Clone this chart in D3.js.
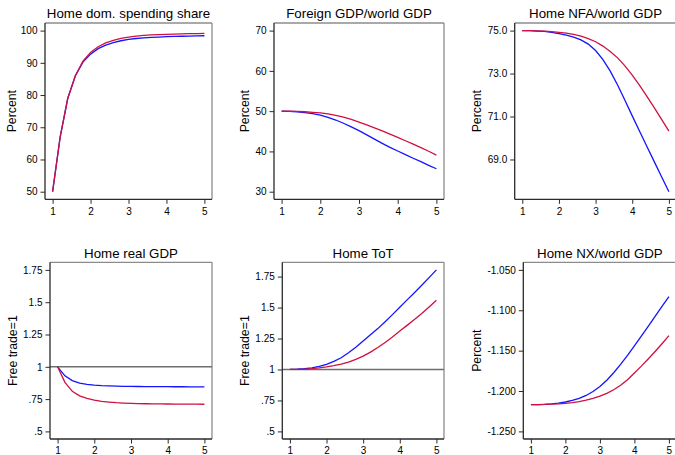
<!DOCTYPE html>
<html>
<head>
<meta charset="utf-8">
<script src="https://cdn.jsdelivr.net/npm/d3@7"></script>
<style>
  html, body { margin: 0; padding: 0; background: #fff; }
  svg { display: block; font-family: "Liberation Sans", Arial, Helvetica, sans-serif; }
</style>
</head>
<body>
<svg id="chart" width="675" height="455"></svg>
<script>
// Horizon (shared x values)
const xs = [1.0, 1.2, 1.4, 1.6, 1.8, 2.0, 2.2, 2.4, 2.6, 2.8, 3.0, 3.2, 3.4, 3.6, 3.8, 4.0, 4.2, 4.4, 4.6, 4.8, 5.0];
const xTicks = [1, 2, 3, 4, 5];

// Home domestic spending share (percent)
const spendBlue = [50, 67, 79, 86, 90.2, 92.7, 94.4, 95.5, 96.3, 96.85, 97.25, 97.55, 97.75, 97.9, 98.0, 98.1, 98.2, 98.25, 98.3, 98.35, 98.4];
const spendRed  = [50, 67, 79, 86, 90.5, 93.2, 95.0, 96.2, 97.0, 97.6, 98.0, 98.3, 98.5, 98.65, 98.75, 98.85, 98.92, 98.98, 99.03, 99.08, 99.12];

// Foreign GDP / world GDP (percent)
const fgdpBlue = [50, 49.95, 49.85, 49.65, 49.4, 49.0, 48.45, 47.8, 47.0, 46.1, 45.15, 44.1, 43.05, 42.0, 41.0, 40.1, 39.2, 38.3, 37.45, 36.55, 35.7];
const fgdpRed  = [50, 49.97, 49.92, 49.85, 49.72, 49.55, 49.3, 48.95, 48.5, 47.95, 47.3, 46.6, 45.85, 45.1, 44.3, 43.5, 42.65, 41.8, 40.95, 40.05, 39.1];

// Home NFA / world GDP (percent)
const nfaBlue = [75.0, 74.995, 74.98, 74.96, 74.92, 74.86, 74.79, 74.70, 74.57, 74.37, 74.07, 73.65, 73.11, 72.47, 71.76, 71.03, 70.31, 69.60, 68.90, 68.20, 67.5];
const nfaRed  = [75.0, 74.998, 74.99, 74.975, 74.95, 74.92, 74.88, 74.82, 74.74, 74.63, 74.48, 74.28, 74.03, 73.73, 73.36, 72.93, 72.45, 71.94, 71.41, 70.87, 70.32];

// Home real GDP (free trade = 1)
const rgdpBlue = [1.0, 0.93, 0.893, 0.874, 0.864, 0.858, 0.854, 0.852, 0.850, 0.849, 0.848, 0.8475, 0.847, 0.8467, 0.8464, 0.846, 0.8457, 0.8455, 0.8453, 0.8451, 0.845];
const rgdpRed  = [1.0, 0.88, 0.81, 0.775, 0.755, 0.742, 0.733, 0.727, 0.722, 0.719, 0.717, 0.715, 0.714, 0.713, 0.7125, 0.712, 0.7115, 0.711, 0.711, 0.7105, 0.71];

// Home terms of trade (free trade = 1)
const totBlue = [1.0, 1.002, 1.006, 1.013, 1.025, 1.042, 1.065, 1.095, 1.135, 1.18, 1.23, 1.28, 1.33, 1.385, 1.443, 1.503, 1.562, 1.62, 1.68, 1.742, 1.804];
const totRed  = [1.0, 1.001, 1.003, 1.007, 1.013, 1.021, 1.031, 1.044, 1.06, 1.082, 1.108, 1.14, 1.177, 1.218, 1.263, 1.311, 1.356, 1.403, 1.452, 1.505, 1.559];

// Home net exports / world GDP (percent)
const nxBlue = [-1.2169, -1.2168, -1.2165, -1.2159, -1.2150, -1.2136, -1.2117, -1.2091, -1.2055, -1.2006, -1.1944, -1.1866, -1.1774, -1.1670, -1.1558, -1.1440, -1.1320, -1.1198, -1.1076, -1.0953, -1.0831];
const nxRed  = [-1.2169, -1.2168, -1.2166, -1.2163, -1.2159, -1.2153, -1.2144, -1.2131, -1.2114, -1.2092, -1.2064, -1.2028, -1.1984, -1.1929, -1.1859, -1.1777, -1.1692, -1.1603, -1.1510, -1.1414, -1.1314];

// Tick values and labels
const spendTicks = [50, 60, 70, 80, 90, 100];
const fgdpTicks = [30, 40, 50, 60, 70];
const nfaTicks = [69, 71, 73, 75];
const ratioTicks = [0.5, 0.75, 1, 1.25, 1.5, 1.75];
const ratioLabels = [".5", ".75", "1", "1.25", "1.5", "1.75"];
const nxTicks = [-1.25, -1.2, -1.15, -1.1, -1.05];

const titles = ["Home dom. spending share", "Foreign GDP/world GDP", "Home NFA/world GDP",
                "Home real GDP", "Home ToT", "Home NX/world GDP"];

const BLUE = "#1414ff";
const RED = "#cf1040";

// plain hyphen-minus for negative labels
const hyphen = f => d => f(d).replace("\u2212", "-");

const panels = [
  { title: titles[0], ylab: "Percent", blue: spendBlue, red: spendRed, ticks: spendTicks,
    fmt: d => String(d), left: 45, right: 212, row: 0, ylabX: 12 },
  { title: titles[1], ylab: "Percent", blue: fgdpBlue, red: fgdpRed, ticks: fgdpTicks,
    fmt: d => String(d), left: 274, right: 444, row: 0, ylabX: 244.5 },
  { title: titles[2], ylab: "Percent", blue: nfaBlue, red: nfaRed, ticks: nfaTicks,
    fmt: d3.format(".1f"), left: 514.7, right: 676.5, row: 0, ylabX: 477 },
  { title: titles[3], ylab: "Free trade=1", blue: rgdpBlue, red: rgdpRed, ticks: ratioTicks,
    fmt: d => ratioLabels[ratioTicks.indexOf(d)], left: 50, right: 212, row: 1, ylabX: 12.5, ref: 1 },
  { title: titles[4], ylab: "Free trade=1", blue: totBlue, red: totRed, ticks: ratioTicks,
    fmt: d => ratioLabels[ratioTicks.indexOf(d)], left: 282.3, right: 444, row: 1, ylabX: 245, ref: 1 },
  { title: titles[5], ylab: "Percent", blue: nxBlue, red: nxRed, ticks: nxTicks,
    fmt: hyphen(d3.format(".3f")), left: 523.3, right: 676.5, row: 1, ylabX: 477 }
];

const rows = [
  { top: 23, bottom: 199.3, titleY: 18, tickY: 214.8 },
  { top: 262.3, bottom: 439, titleY: 257.5, tickY: 454.3 }
];

const svg = d3.select("#chart");
const pad = 7.6;

panels.forEach(p => {
  const r = rows[p.row];
  const g = svg.append("g");
  const all = p.blue.concat(p.red, p.ticks);
  const x = d3.scaleLinear().domain([1, 5]).range([p.left + pad, p.right - pad]);
  const y = d3.scaleLinear().domain(d3.extent(all)).range([r.bottom - pad, r.top + pad]);

  // Frame: light top/right, dark axes on left/bottom
  g.append("line").attr("x1", p.left).attr("x2", p.right).attr("y1", r.top).attr("y2", r.top)
    .attr("stroke", "#8c8c8c").attr("stroke-width", 1.3);
  g.append("line").attr("x1", p.right).attr("x2", p.right).attr("y1", r.top).attr("y2", r.bottom)
    .attr("stroke", "#8c8c8c").attr("stroke-width", 1.3);

  // Reference line at 1
  if (p.ref !== undefined) {
    g.append("line").attr("x1", p.left).attr("x2", p.right)
      .attr("y1", y(p.ref)).attr("y2", y(p.ref))
      .attr("stroke", "#6e6e6e").attr("stroke-width", 1.5);
  }

  // Series
  const line = d3.line().x((d, i) => x(xs[i])).y(d => y(d));
  g.append("path").datum(p.blue).attr("d", line).attr("fill", "none")
    .attr("stroke", BLUE).attr("stroke-width", 1.3);
  g.append("path").datum(p.red).attr("d", line).attr("fill", "none")
    .attr("stroke", RED).attr("stroke-width", 1.3);

  // Axes
  const yAxis = d3.axisLeft(y).tickValues(p.ticks).tickFormat(p.fmt).tickSize(4.5).tickPadding(3);
  const ya = g.append("g").attr("transform", `translate(${p.left},0)`).call(yAxis);
  ya.select(".domain").attr("d", `M0,${r.top}V${r.bottom}`);
  const xAxis = d3.axisBottom(x).tickValues(xTicks).tickFormat(d3.format("d")).tickSize(4.5).tickPadding(3);
  const xa = g.append("g").attr("transform", `translate(0,${r.bottom})`).call(xAxis);
  xa.select(".domain").attr("d", `M${p.left},0H${p.right}`);

  [ya, xa].forEach(a => {
    a.select(".domain").attr("stroke", "#2a2a2a").attr("stroke-width", 1.3);
    a.selectAll(".tick line").attr("stroke", "#2a2a2a").attr("stroke-width", 1);
    a.selectAll(".tick text").attr("fill", "#000").style("font-size", "10px")
      .style("font-family", "'Liberation Sans', Arial, sans-serif");
  });
  xa.selectAll(".tick text").attr("dy", null).attr("y", r.tickY - r.bottom);

  // Title
  g.append("text").attr("x", (p.left + p.right) / 2).attr("y", r.titleY)
    .attr("text-anchor", "middle").style("font-size", "13.3px").attr("fill", "#000").text(p.title);

  // Y axis title
  g.append("text")
    .attr("transform", `translate(${p.ylabX},${(r.top + r.bottom) / 2}) rotate(-90)`)
    .attr("text-anchor", "middle").attr("dy", "0.35em")
    .style("font-size", "12.3px").attr("fill", "#000").text(p.ylab);
});
</script>
</body>
</html>
